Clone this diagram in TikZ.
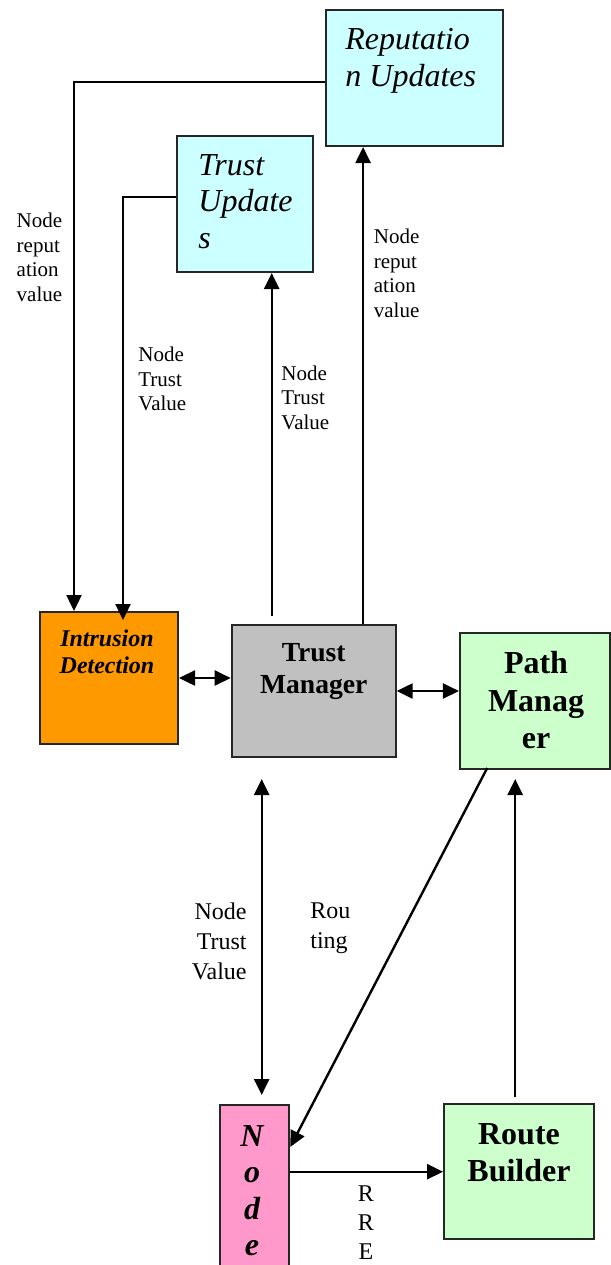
\documentclass[tikz,border=0pt]{standalone}
\usepackage{fontspec}
\setmainfont{Liberation Serif}
\usetikzlibrary{arrows.meta}
\definecolor{updcyan}{HTML}{CCFFFF}
\definecolor{idorange}{HTML}{FF9900}
\definecolor{tmgray}{HTML}{C0C0C0}
\definecolor{pmgreen}{HTML}{CCFFCC}
\definecolor{ndpink}{HTML}{FF99CC}
\begin{document}
\begin{tikzpicture}[x=0.5pt,y=-0.5pt,
  box/.style={draw=black!85,line width=1pt,inner sep=0pt},
  txt/.style={inner sep=0pt,align=left},
  small/.style={font=\fontsize{10.5}{12.25}\selectfont},
  mid/.style={font=\fontsize{12}{15}\selectfont},
  arr/.style={line width=1.2pt,-{Triangle[length=8pt,width=7.5pt]}},
  darr/.style={line width=1.2pt,{Triangle[length=8pt,width=7.5pt]}-{Triangle[length=8pt,width=7.5pt]}}]

\useasboundingbox (0,0) rectangle (611,1265);
\clip (0,0) rectangle (611,1265);

\node[box,fill=updcyan,minimum width=88.5pt,minimum height=68pt] (rep) at (414.5,78) {};
\node[box,fill=updcyan,minimum width=68pt,minimum height=68pt]   (TU)  at (245,204) {};
\node[box,fill=idorange,minimum width=69pt,minimum height=66pt]  (ID)  at (109,678) {};
\node[box,fill=tmgray,minimum width=82pt,minimum height=66pt]    (TM)  at (313.7,691) {};
\node[box,fill=pmgreen,minimum width=75.25pt,minimum height=68pt] (PM) at (535.2,701) {};
\node[box,fill=pmgreen,minimum width=75.15pt,minimum height=67.65pt] (RB) at (519.2,1171.7) {};
\node[box,fill=ndpink,minimum width=34.65pt,minimum height=97.5pt] (nd) at (254.6,1202.5) {};

\draw[arr] ([yshift=-2pt]rep.west) -| ([xshift=-17.5pt]ID.north);
\draw[arr] ([yshift=3.5pt]TU.west) -| ([xshift=7pt,yshift=-4.5pt]ID.north);
\draw[arr] ([xshift=-21pt,yshift=4pt]TM.north) -- ([xshift=-21pt]TM.north |- TU.south);
\draw[arr] ([xshift=24.7pt]TM.north) -- ([xshift=24.7pt]TM.north |- rep.south);
\foreach \s/\d in {ID/TM,TM/PM}
  \draw[darr] (\s.east) -- (\s.east -| \d.west);
\draw[darr,shorten <=10.5pt,shorten >=4.5pt] ([xshift=-26pt]TM.south) -- ([xshift=-26pt]TM.south |- nd.north);
\draw[arr] ([xshift=-24pt,yshift=1pt]PM.south) -- ([yshift=-21.5pt]nd.north east);
\draw[arr] (nd.east |- RB.west) -- (RB.west);
\draw[arr,shorten >=4.5pt] ([xshift=-2pt,yshift=3pt]RB.north) -- ([xshift=-2pt]RB.north |- PM.south);

\node[txt,anchor=north west,font=\fontsize{16}{18.5}\selectfont\itshape] (repT) at (345,28) {Reputatio\\n Updates};
\node[txt,anchor=north west,font=\fontsize{16}{18.25}\selectfont\itshape] (TUT) at (198,154) {Trust\\Update\\s};
\node[txt,align=center,anchor=north,font=\fontsize{12}{13.5}\selectfont\bfseries\itshape] (IDT) at (107,629) {Intrusion\\Detection};
\node[txt,align=center,anchor=north,font=\fontsize{13.8}{16}\selectfont\bfseries] (TMT) at (313.7,643) {Trust\\Manager};
\node[txt,align=center,anchor=north,font=\fontsize{16}{18.7}\selectfont\bfseries] (PMT) at (536,651) {Path\\Manag\\er};
\node[txt,align=center,anchor=north,font=\fontsize{16}{18.5}\selectfont\bfseries] (RBT) at (519,1123) {Route\\Builder};
\node[txt,align=center,anchor=north,font=\fontsize{16}{18.25}\selectfont\bfseries\itshape] (ndT) at (252,1125) {N\\o\\d\\e};

\node[txt,small,anchor=north west] (repL) at (16.3,213) {Node\\reput\\ation\\value};
\node[txt,small,anchor=north west] (idL)  at (138,347) {Node\\Trust\\Value};
\node[txt,small,anchor=north west] (tuL)  at (281,365.5) {Node\\Trust\\Value};
\node[txt,small,anchor=north west] (tmL)  at (373.5,229) {Node\\reput\\ation\\value};
\node[txt,mid,align=right,anchor=north east] (ndL) at (247,902) {Node\\Trust\\Value};
\node[txt,mid,anchor=north west] (rtL) at (310,902) {Rou\\ting};
\node[txt,mid,align=center,anchor=north,font=\fontsize{12}{14.5}\selectfont] (rrL) at (366,1185) {R\\R\\E};

\end{tikzpicture}
\end{document}
